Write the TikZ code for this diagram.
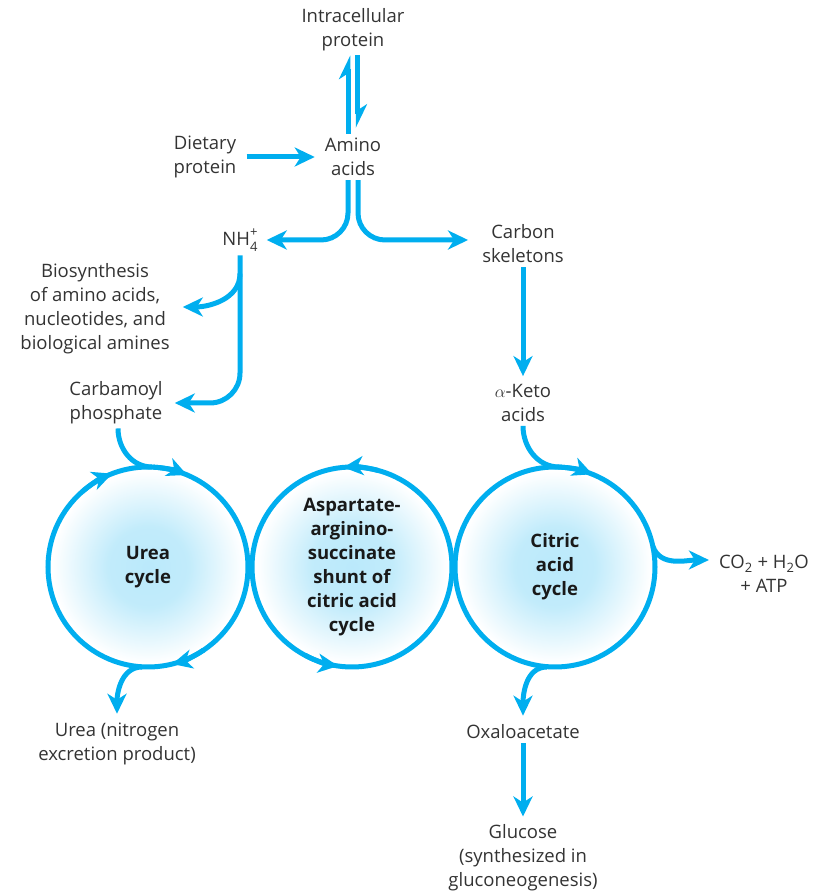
\documentclass[tikz,border=0pt]{standalone}
\usepackage{fontspec}
\setmainfont{Open Sans}
\usetikzlibrary{arrows.meta,calc}
\definecolor{flowblue}{HTML}{00AEEF}
\pgfdeclareradialshading{cycleglow}{\pgfpoint{0bp}{0bp}}{color(0bp)=(flowblue!27!white); color(10bp)=(flowblue!24!white); color(24bp)=(white); color(50bp)=(white)}

\begin{document}
\begin{tikzpicture}[x=1pt,y=1pt,>={Stealth[length=20pt,width=19pt,inset=6pt]},
  font=\fontsize{18.5}{24}\selectfont,text=black!80,
  flow/.style={draw=flowblue,line width=5pt},
  lbl/.style={align=center,inner sep=4pt},
  cycle/.style={circle,draw=flowblue,line width=5pt,minimum size=200pt,inner sep=0pt,outer sep=0pt,
    shading=cycleglow,align=center,text=black!90,font=\fontsize{18.5}{24}\selectfont\bfseries}]
\useasboundingbox (0,0) rectangle (818,895);
\node[lbl] (intra) at (353,865) {Intracellular\\protein};
\node[lbl] (amino) at (353,738) {Amino\\acids};
\node[lbl] (dietary) at (205,738) {Dietary\\protein};
\node[lbl] (nh4) at (240,655) {NH\rlap{\raisebox{0.5em}{\fontsize{13}{13}\selectfont+}}\raisebox{-0.3em}{\fontsize{13}{13}\selectfont 4}};
\node[lbl] (carbon) at (523,651) {Carbon\\skeletons};
\node[lbl] (biosyn) at (95,586) {Biosynthesis\\of amino acids,\\nucleotides, and\\biological amines};
\node[lbl] (carb) at (116,492) {Carbamoyl\\phosphate};
\node[lbl] (keto) at (523,492) {$\alpha$-Keto\\acids};
\node[cycle] (urea) at (148,328) {Urea\\cycle};
\node[cycle] (shunt) at (352,328) {Aspartate-\\arginino-\\succinate\\shunt of\\citric acid\\cycle};
\node[cycle] (citric) at (555,328) {Citric\\acid\\cycle};
\node[lbl] (co2) at (764,321) {CO\textsubscript{2} + H\textsubscript{2}O\\+ ATP};
\node[lbl] (ureaprod) at (117,151) {Urea (nitrogen\\excretion product)};
\node[lbl] (oxalo) at (523,163) {Oxaloacetate};
\node[lbl] (glucose) at (523,37) {Glucose\\(synthesized in\\gluconeogenesis)};

\draw[flow,-{Stealth[harpoon,length=20pt,width=19pt,inset=6pt]}] ([xshift=-4.5pt]amino.north) -- ([xshift=-4.5pt]intra.south);
\draw[flow,-{Stealth[harpoon,length=20pt,width=19pt,inset=6pt]}] ([xshift=4.5pt]intra.south) -- ([xshift=4.5pt,yshift=6pt]amino.north);
\draw[flow,->,shorten <=6pt,shorten >=6pt] (dietary) -- (amino);
\draw[flow,->,rounded corners=27pt,shorten >=5pt] ([xshift=-5pt]amino.south) |- (nh4.east);
\draw[flow,->,rounded corners=27pt,shorten >=10pt] ([xshift=5pt]amino.south) |- ([yshift=4pt]carbon.west);
\draw[flow,->,rounded corners=30pt,shorten >=8pt] (nh4.south) |- (carb.east);
\draw[flow,->] ($(nh4.south)+(0,-18)$) to[out=-90,in=0] ([xshift=9pt,yshift=2pt]biosyn.east);
\draw[flow,->,shorten >=4pt] (carbon) -- (keto);
\draw[flow] ([xshift=2pt]carb.south) to[out=-90,in=180] ([xshift=4pt]urea.north);
\draw[flow] (keto.south) to[out=-90,in=180] ([xshift=4pt]citric.north);
\draw[flow,->] ([xshift=-6pt]urea.south) to[out=180,in=90] ([yshift=5pt]ureaprod.north);
\draw[flow,->] ([xshift=-8pt]citric.south) to[out=180,in=90] ([yshift=5pt]oxalo.north);
\draw[flow,->] (citric.12) to[out=-70,in=180] ([xshift=-6pt,yshift=14pt]co2.west);
\draw[flow,->,shorten >=4pt] (oxalo) -- (glucose);

\draw[flow,->] ($(urea.center)+(87:100)$) arc[start angle=87,end angle=67,radius=100];
\draw[flow,->] ($(urea.center)+(131:100)$) arc[start angle=131,end angle=111,radius=100];
\draw[flow,->] ($(urea.center)+(-56:100)$) arc[start angle=-56,end angle=-76,radius=100];
\draw[flow,->] ($(shunt.center)+(75:100)$) arc[start angle=75,end angle=95,radius=100];
\draw[flow,->] ($(shunt.center)+(-118:100)$) arc[start angle=-118,end angle=-98,radius=100];
\draw[flow,->] ($(citric.center)+(88:100)$) arc[start angle=88,end angle=68,radius=100];
\end{tikzpicture}
\end{document}
